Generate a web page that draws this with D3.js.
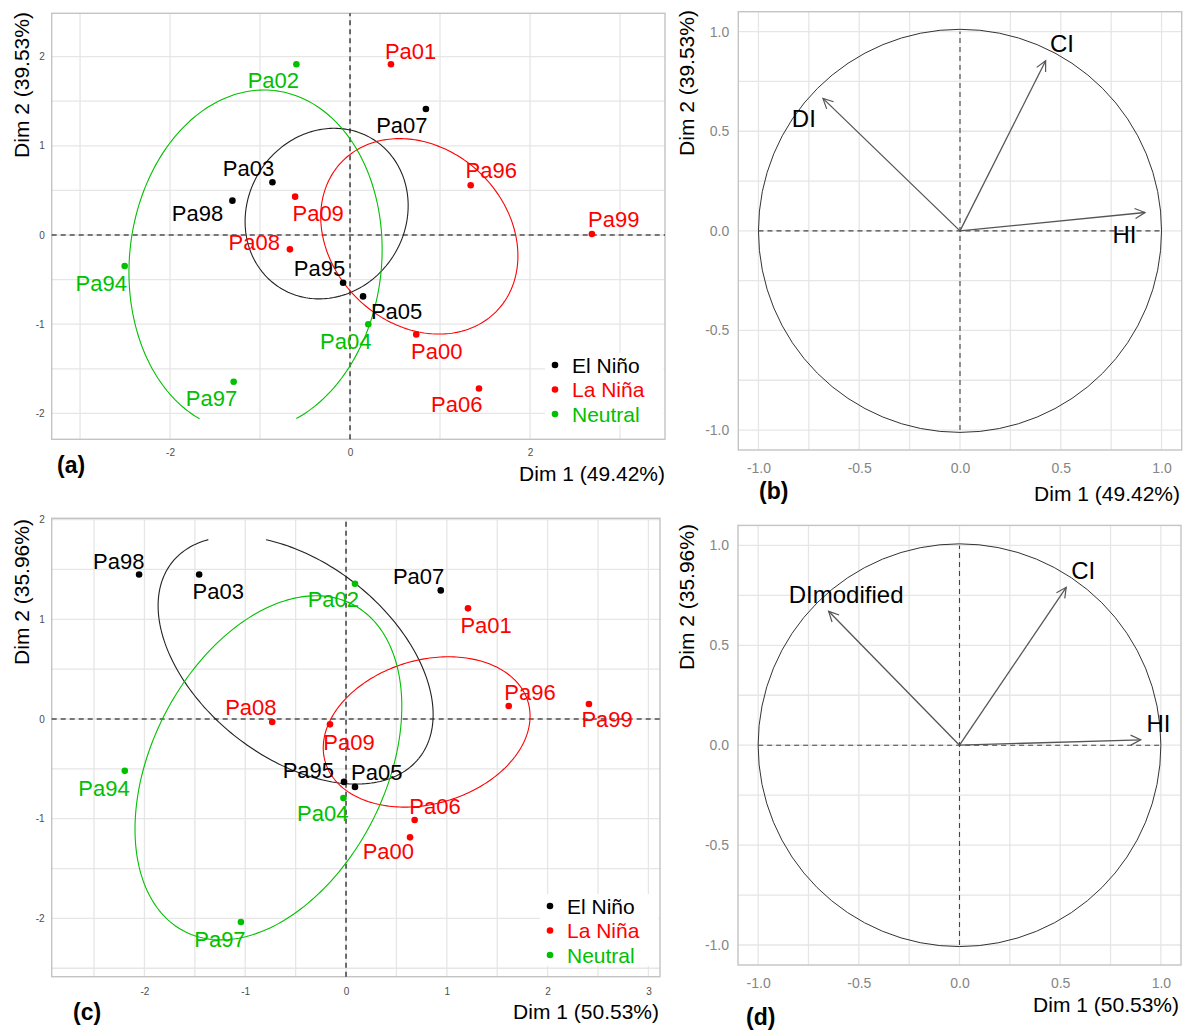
<!DOCTYPE html>
<html>
<head>
<meta charset="utf-8">
<script src="https://cdn.jsdelivr.net/npm/d3@7"></script>
<style>
  body { margin: 0; background: #fff; }
  svg { font-family: "Liberation Sans", Arial, sans-serif; }
</style>
</head>
<body>
<svg id="fig" width="1186" height="1032"></svg>
<script>
const svg = d3.select('#fig')

// ENSO groups and colours
const groupNames = ['El Niño', 'La Niña', 'Neutral']
const groupColors = ['#000000', '#ff0000', '#00c000']
const color = d3.scaleOrdinal(groupNames, groupColors)

// years (individuals) and their group
const years = ['Pa94', 'Pa95', 'Pa96', 'Pa97', 'Pa98', 'Pa99', 'Pa00', 'Pa01',
  'Pa02', 'Pa03', 'Pa04', 'Pa05', 'Pa06', 'Pa07', 'Pa08', 'Pa09']
const yearGroup = ['Neutral', 'El Niño', 'La Niña', 'Neutral', 'El Niño', 'La Niña', 'La Niña', 'La Niña',
  'Neutral', 'El Niño', 'Neutral', 'El Niño', 'La Niña', 'El Niño', 'La Niña', 'La Niña']

// panel (a) individual coordinates
const dim1A = [-2.504, -0.077, 1.341, -1.293, -1.307, 2.688, 0.736, 0.455,
  -0.596, -0.862, 0.203, 0.145, 1.433, 0.843, -0.668, -0.610]
const dim2A = [-0.348, -0.535, 0.557, -1.645, 0.385, 0.011, -1.114, 1.914,
  1.914, 0.591, -1.0, -0.688, -1.720, 1.413, -0.161, 0.430]
// repelled label positions (a)
const labelXA = [-2.765, -0.339, 1.569, -1.540, -1.695, 2.930, 0.964, 0.673,
  -0.852, -1.128, -0.048, 0.518, 1.186, 0.576, -1.065, -0.354]
const labelYA = [-0.546, -0.370, 0.718, -1.832, 0.239, 0.176, -1.308, 2.056,
  1.727, 0.748, -1.196, -0.852, -1.899, 1.222, -0.079, 0.239]
// concentration ellipses (a): El Niño, La Niña, Neutral
const ellCxA = [-0.26, 0.77, -1.05]
const ellCyA = [0.24, -0.015, -0.29]
const ellMajorA = [0.98, 1.20, 1.92]
const ellMinorA = [0.88, 0.98, 1.40]
const ellAngleA = [60, 135, 84]

// panel (c) individual coordinates
const dim1C = [-2.195, -0.020, 1.614, -1.043, -2.053, 2.41, 0.635, 1.21,
  0.089, -1.457, -0.026, 0.089, 0.681, 0.94, -0.732, -0.159]
const dim2C = [-0.520, -0.631, 0.130, -2.037, 1.450, 0.15, -1.187, 1.11,
  1.356, 1.450, -0.792, -0.681, -1.013, 1.29, -0.030, -0.054]
const labelXC = [-2.401, -0.374, 1.825, -1.251, -2.255, 2.59, 0.42, 1.39,
  -0.126, -1.268, -0.231, 0.305, 0.883, 0.72, -0.944, 0.030]
const labelYC = [-0.698, -0.513, 0.264, -2.215, 1.584, -0.01, -1.331, 0.94,
  1.198, 1.275, -0.946, -0.537, -0.873, 1.43, 0.114, -0.235]
const ellCxC = [-0.50, 0.80, -0.77]
const ellCyC = [0.59, -0.13, -0.49]
const ellMajorC = [1.57, 1.05, 1.84]
const ellMinorC = [0.97, 0.72, 1.16]
const ellAngleC = [-39, 17, 63.5]

// variable loadings (b) and (d)
const varsB = ['CI', 'DI', 'HI']
const loadXB = [0.425, -0.68, 0.918]
const loadYB = [0.854, 0.665, 0.092]
const varLabelXB = [0.506, -0.775, 0.816]
const varLabelYB = [0.941, 0.566, -0.02]

const varsD = ['CI', 'DImodified', 'HI']
const loadXD = [0.53, -0.65, 0.90]
const loadYD = [0.79, 0.67, 0.027]
const varLabelXD = [0.614, -0.563, 0.988]
const varLabelYD = [0.873, 0.755, 0.1075]

// ticks
const ticksXA = [-2, 0, 2]
const ticksYA = [-2, -1, 0, 1, 2]
const ticksXC = [-2, -1, 0, 1, 2, 3]
const ticksYC = [-2, -1, 0, 1, 2]
const ticksVar = [-1, -0.5, 0, 0.5, 1]

const font = '"Liberation Sans", Arial, sans-serif'

// plain hyphen minus, like R output
const fmtInt = d => d3.format('d')(d).replace('\u2212', '-')
const fmtOne = d => d3.format('.1f')(d).replace('\u2212', '-')

/**
 * draw background grid, border and axes of one panel
 */
function drawFrame(g, x, y, gridX, gridY, tickX, tickY, o) {
  const [x0, x1] = x.range()
  const [y1, y0] = y.range()
  g.append('g').selectAll('line').data(gridX).join('line')
    .attr('x1', d => x(d)).attr('x2', d => x(d))
    .attr('y1', y0).attr('y2', y1)
    .attr('stroke', '#e6e6e6').attr('stroke-width', 1.3)
  g.append('g').selectAll('line').data(gridY).join('line')
    .attr('y1', d => y(d)).attr('y2', d => y(d))
    .attr('x1', x0).attr('x2', x1)
    .attr('stroke', '#e6e6e6').attr('stroke-width', 1.3)
  g.append('rect')
    .attr('x', x0).attr('y', y0)
    .attr('width', x1 - x0).attr('height', y1 - y0)
    .attr('fill', 'none').attr('stroke', '#c4c4c4').attr('stroke-width', 1.4)

  const ax = g.append('g')
    .attr('transform', `translate(0,${y1})`)
    .call(d3.axisBottom(x).tickValues(tickX).tickSize(0).tickPadding(o.padX).tickFormat(o.fmt))
  const ay = g.append('g')
    .attr('transform', `translate(${x0},0)`)
    .call(d3.axisLeft(y).tickValues(tickY).tickSize(0).tickPadding(o.padY).tickFormat(o.fmt))
  ;[ax, ay].forEach(a => {
    a.select('.domain').remove()
    a.selectAll('text')
      .attr('font-family', font)
      .attr('font-size', o.tickSize)
      .attr('fill', o.tickColor)
  })
}

function axisTitles(g, o) {
  g.append('text')
    .attr('x', o.xTitle[0]).attr('y', o.xTitle[1])
    .attr('text-anchor', 'end').attr('dominant-baseline', 'central')
    .attr('font-size', 21).attr('fill', '#000')
    .text(o.xText)
  g.append('text')
    .attr('transform', `translate(${o.yTitle[0]},${o.yTitle[1]}) rotate(-90)`)
    .attr('text-anchor', 'middle').attr('dominant-baseline', 'central')
    .attr('font-size', 21).attr('fill', '#000')
    .text(o.yText)
  g.append('text')
    .attr('x', o.tag[0]).attr('y', o.tag[1])
    .attr('dominant-baseline', 'central')
    .attr('font-size', 23).attr('font-weight', 'bold').attr('fill', '#000')
    .text(o.tagText)
}

// ellipse outline, split where it leaves the y limits
function ellipseSegments(cx, cy, a, b, deg, yMin, yMax) {
  const th = deg * Math.PI / 180
  const segs = [[]]
  for (let i = 0; i <= 240; i++) {
    const t = i / 240 * 2 * Math.PI
    const px = cx + a * Math.cos(t) * Math.cos(th) - b * Math.sin(t) * Math.sin(th)
    const py = cy + a * Math.cos(t) * Math.sin(th) + b * Math.sin(t) * Math.cos(th)
    if (py < yMin || py > yMax) {
      if (segs[segs.length - 1].length) segs.push([])
    } else {
      segs[segs.length - 1].push([px, py])
    }
  }
  return segs.filter(s => s.length > 1)
}

/**
 * individuals map with group ellipses
 */
function individualsPanel(o) {
  const g = svg.append('g')
  const x = d3.scaleLinear().domain(o.xDomain).range(o.xRange)
  const y = d3.scaleLinear().domain(o.yDomain).range(o.yRange)
  drawFrame(g, x, y, o.gridX, o.gridY, o.ticksX, o.ticksY,
    { padX: o.padX, padY: 7, fmt: fmtInt, tickSize: 10, tickColor: '#4d4d4d' })

  // reference lines
  g.append('line')
    .attr('x1', x.range()[0]).attr('x2', x.range()[1])
    .attr('y1', y(0)).attr('y2', y(0))
    .attr('stroke', '#000').attr('stroke-width', 1.1).attr('stroke-dasharray', '5,4')
  g.append('line')
    .attr('x1', x(0)).attr('x2', x(0))
    .attr('y1', y.range()[0]).attr('y2', y.range()[1])
    .attr('stroke', '#000').attr('stroke-width', 1.1).attr('stroke-dasharray', '5,4')

  // ellipses
  const line = d3.line().x(d => x(d[0])).y(d => y(d[1]))
  groupNames.forEach((grp, i) => {
    ellipseSegments(o.ell.cx[i], o.ell.cy[i], o.ell.a[i], o.ell.b[i], o.ell.angle[i], o.clip[0], o.clip[1])
      .forEach(seg => {
        g.append('path').attr('d', line(seg))
          .attr('fill', 'none').attr('stroke', grp === 'El Niño' ? '#222' : color(grp))
          .attr('stroke-width', 1.1)
      })
  })

  const data = years.map((n, i) => ({ name: n, group: yearGroup[i],
    x: o.dim1[i], y: o.dim2[i], lx: o.labelX[i], ly: o.labelY[i] }))

  g.append('g').selectAll('circle').data(data).join('circle')
    .attr('cx', d => x(d.x)).attr('cy', d => y(d.y)).attr('r', 3.3)
    .attr('fill', d => color(d.group))
  g.append('g').selectAll('text').data(data).join('text')
    .attr('x', d => x(d.lx)).attr('y', d => y(d.ly))
    .attr('text-anchor', 'middle').attr('dominant-baseline', 'central')
    .attr('font-size', 22).attr('fill', d => color(d.group))
    .text(d => d.name)

  // legend
  const lg = g.append('g')
  lg.append('rect')
    .attr('x', o.legend[0]).attr('y', o.legend[1] - 2)
    .attr('width', x.range()[1] - o.legend[0] - 1.5).attr('height', 72)
    .attr('fill', '#fff')
  groupNames.forEach((grp, i) => {
    const cy = o.legend[1] + 10 + i * 24.5
    lg.append('circle').attr('cx', o.legend[0] + 10).attr('cy', cy).attr('r', 3.3).attr('fill', color(grp))
    lg.append('text').attr('x', o.legend[0] + 27).attr('y', cy)
      .attr('dominant-baseline', 'central').attr('font-size', 21)
      .attr('fill', color(grp)).text(grp)
  })

  axisTitles(g, o)
}

/**
 * correlation circle of variables
 */
function variablesPanel(o) {
  const g = svg.append('g')
  const x = d3.scaleLinear().domain([-1.1, 1.1]).range(o.xRange)
  const y = d3.scaleLinear().domain([-1.1, 1.1]).range(o.yRange)
  const grid = d3.range(-1, 1.01, 0.25)
  drawFrame(g, x, y, grid, grid, ticksVar, ticksVar,
    { padX: 13, padY: 9, fmt: fmtOne, tickSize: 14, tickColor: '#858585' })

  g.append('circle')
    .attr('cx', x(0)).attr('cy', y(0)).attr('r', x(1) - x(0))
    .attr('fill', 'none').attr('stroke', '#333').attr('stroke-width', 1)
  g.append('line')
    .attr('x1', x(-1)).attr('x2', x(1)).attr('y1', y(0)).attr('y2', y(0))
    .attr('stroke', '#444').attr('stroke-width', 1.1).attr('stroke-dasharray', '5,4')
  g.append('line')
    .attr('x1', x(0)).attr('x2', x(0)).attr('y1', y(-1)).attr('y2', y(1))
    .attr('stroke', '#444').attr('stroke-width', 1.1).attr('stroke-dasharray', '5,4')

  const id = 'arrow' + o.tagText.replace(/\W/g, '')
  g.append('defs').append('marker')
    .attr('id', id).attr('markerUnits', 'userSpaceOnUse')
    .attr('markerWidth', 14).attr('markerHeight', 14)
    .attr('refX', 11).attr('refY', 6).attr('orient', 'auto')
    .append('path').attr('d', 'M1,1 L11,6 L1,11')
    .attr('fill', 'none').attr('stroke', '#555').attr('stroke-width', 1.2)

  const data = o.vars.map((v, i) => ({ name: v, x: o.lx[i], y: o.ly[i], tx: o.tx[i], ty: o.ty[i] }))
  g.append('g').selectAll('line').data(data).join('line')
    .attr('x1', x(0)).attr('y1', y(0))
    .attr('x2', d => x(d.x)).attr('y2', d => y(d.y))
    .attr('stroke', '#555').attr('stroke-width', 1.3)
    .attr('marker-end', `url(#${id})`)
  g.append('g').selectAll('text').data(data).join('text')
    .attr('x', d => x(d.tx)).attr('y', d => y(d.ty))
    .attr('text-anchor', 'middle').attr('dominant-baseline', 'central')
    .attr('font-size', 24).attr('fill', '#000')
    .text(d => d.name)

  axisTitles(g, o)
}

individualsPanel({
  xDomain: [-3.315, 3.50], xRange: [51.7, 665],
  yDomain: [-2.29, 2.485], yRange: [439.3, 13.3],
  gridX: [-3, -2, -1, 0, 1, 2, 3], gridY: d3.range(-2, 2.01, 0.5),
  ticksX: ticksXA, ticksY: ticksYA, padX: 10,
  dim1: dim1A, dim2: dim2A, labelX: labelXA, labelY: labelYA,
  ell: { cx: ellCxA, cy: ellCyA, a: ellMajorA, b: ellMinorA, angle: ellAngleA },
  clip: [-2.07, 9],
  legend: [545, 355],
  xText: 'Dim 1 (49.42%)', xTitle: [665, 473],
  yText: 'Dim 2 (39.53%)', yTitle: [21, 85],
  tagText: '(a)', tag: [57, 465]
})

variablesPanel({
  xRange: [738.3, 1181.7], yRange: [450, 11.7],
  vars: varsB, lx: loadXB, ly: loadYB, tx: varLabelXB, ty: varLabelYB,
  xText: 'Dim 1 (49.42%)', xTitle: [1180, 493],
  yText: 'Dim 2 (39.53%)', yTitle: [686, 83],
  tagText: '(b)', tag: [759, 491]
})

individualsPanel({
  xDomain: [-2.92, 3.115], xRange: [51.7, 660],
  yDomain: [-2.585, 2.013], yRange: [976.7, 518.3],
  gridX: d3.range(-2.5, 3.01, 0.5), gridY: d3.range(-2.5, 2.01, 0.5),
  ticksX: ticksXC, ticksY: ticksYC, padX: 11.5,
  dim1: dim1C, dim2: dim2C, labelX: labelXC, labelY: labelYC,
  ell: { cx: ellCxC, cy: ellCyC, a: ellMajorC, b: ellMinorC, angle: ellAngleC },
  clip: [-9, 1.80],
  legend: [540, 896],
  xText: 'Dim 1 (50.53%)', xTitle: [659, 1011],
  yText: 'Dim 2 (35.96%)', yTitle: [21, 592],
  tagText: '(c)', tag: [73, 1012]
})

variablesPanel({
  xRange: [738, 1181], yRange: [965, 525.4],
  vars: varsD, lx: loadXD, ly: loadYD, tx: varLabelXD, ty: varLabelYD,
  xText: 'Dim 1 (50.53%)', xTitle: [1179, 1004],
  yText: 'Dim 2 (35.96%)', yTitle: [686, 597],
  tagText: '(d)', tag: [746, 1017]
})
</script>
</body>
</html>
